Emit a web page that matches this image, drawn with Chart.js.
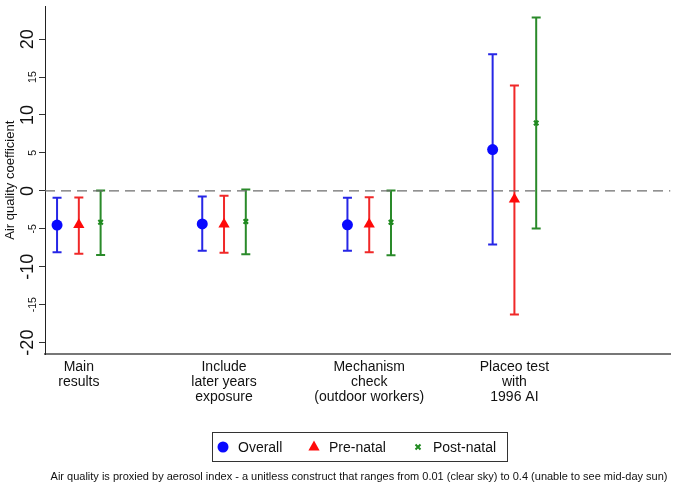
<!DOCTYPE html>
<html lang="en">
<head>
  <meta charset="UTF-8">
  <title>Air quality coefficient</title>
  <script src="https://cdn.jsdelivr.net/npm/chart.js"></script>
  <style>
    html, body { margin: 0; padding: 0; background: #fff; }
    #wrap { width: 677px; height: 484px; }
  </style>
</head>
<body>
  <div id="wrap"><canvas id="chart" width="677" height="484"></canvas></div>

  <script>
    // Specifications (x axis groups), multi-line labels
    const groups = [
      ['Main', 'results'],
      ['Include', 'later years', 'exposure'],
      ['Mechanism', 'check', '(outdoor workers)'],
      ['Placeo test', 'with', '1996 AI']
    ];
    const seriesNames = ['Overall', 'Pre-natal', 'Post-natal'];

    // point estimates and confidence bounds
    const overall   = [-4.5, -4.35, -4.48, 5.45];
    const overallLo = [-8.08, -7.9, -7.9, -7.08];
    const overallHi = [-0.91, -0.74, -0.91, 18.0];

    const prenatal   = [-4.45, -4.4, -4.4, -1.1];
    const prenatalLo = [-8.3, -8.17, -8.08, -16.3];
    const prenatalHi = [-0.87, -0.65, -0.83, 13.9];

    const postnatal   = [-4.13, -4.04, -4.13, 8.95];
    const postnatalLo = [-8.44, -8.35, -8.48, -4.95];
    const postnatalHi = [0.04, 0.17, 0.04, 22.85];

    const yTicks = [-20, -15, -10, -5, 0, 5, 10, 15, 20];
    const yTitle = 'Air quality coefficient';
    const note = 'Air quality is proxied by aerosol index - a unitless construct that ranges from 0.01 (clear sky) to 0.4 (unable to see mid-day sun)';

    // x position of each group is its index + 1, series spread around it
    const dodge = [-0.15, 0, 0.15];
    const xMin = 0.767, xMax = 5.075;

    const colors = {
      blue: '#0a0aff', blueBar: '#2626e6',
      red: '#ff0a0a', redBar: '#f02828',
      green: '#1f8a1f', greenBar: '#2a8a2a'
    };

    const FONT = '"Liberation Sans", Arial, sans-serif';

    function pts(vals, s) {
      return vals.map((v, i) => ({ x: i + 1 + dodge[s], y: v }));
    }

    const bars = [
      { mid: overall, lo: overallLo, hi: overallHi, color: colors.blueBar, s: 0 },
      { mid: prenatal, lo: prenatalLo, hi: prenatalHi, color: colors.redBar, s: 1 },
      { mid: postnatal, lo: postnatalLo, hi: postnatalHi, color: colors.greenBar, s: 2 }
    ];

    const decorPlugin = {
      id: 'decor',
      beforeDatasetsDraw(chart) {
        const ctx = chart.ctx;
        const xs = chart.scales.x, ys = chart.scales.y;
        ctx.save();
        ctx.lineWidth = 2;
        bars.forEach(b => {
          ctx.strokeStyle = b.color;
          b.mid.forEach((_, i) => {
            const px = xs.getPixelForValue(i + 1 + dodge[b.s]);
            const top = ys.getPixelForValue(b.hi[i]);
            const bot = ys.getPixelForValue(b.lo[i]);
            ctx.beginPath();
            ctx.moveTo(px, top); ctx.lineTo(px, bot);
            ctx.moveTo(px - 4.5, top); ctx.lineTo(px + 4.5, top);
            ctx.moveTo(px - 4.5, bot); ctx.lineTo(px + 4.5, bot);
            ctx.stroke();
          });
        });
        ctx.restore();
      },
      afterDraw(chart) {
        const ctx = chart.ctx;
        const xs = chart.scales.x, ys = chart.scales.y;
        ctx.save();
        ctx.fillStyle = '#111';

        // y tick labels, rotated like Stata
        yTicks.forEach(v => {
          const py = ys.getPixelForValue(v);
          const major = v % 10 === 0;
          ctx.save();
          ctx.translate(major ? 33 : 36, py);
          ctx.rotate(-Math.PI / 2);
          ctx.font = (major ? '18px ' : '10.5px ') + FONT;
          ctx.textAlign = 'center';
          ctx.textBaseline = 'alphabetic';
          ctx.fillText(String(v), 0, 0);
          ctx.restore();
        });

        // y title
        ctx.save();
        ctx.translate(14, (chart.chartArea.top + chart.chartArea.bottom) / 2);
        ctx.rotate(-Math.PI / 2);
        ctx.font = '13px ' + FONT;
        ctx.textAlign = 'center';
        ctx.textBaseline = 'alphabetic';
        ctx.fillText(yTitle, 0, 0);
        ctx.restore();

        // group labels under the axis
        ctx.font = '14px ' + FONT;
        ctx.textAlign = 'center';
        ctx.textBaseline = 'middle';
        groups.forEach((lines, i) => {
          const px = xs.getPixelForValue(i + 1);
          lines.forEach((t, j) => ctx.fillText(t, px, 367 + j * 15));
        });

        // legend box
        ctx.strokeStyle = '#333';
        ctx.lineWidth = 1;
        ctx.strokeRect(212.5, 432.5, 295, 29);
        const ly = 447;
        ctx.fillStyle = colors.blue;
        ctx.beginPath(); ctx.arc(223, ly, 5.5, 0, Math.PI * 2); ctx.fill();
        ctx.fillStyle = colors.red;
        ctx.beginPath();
        ctx.moveTo(314, ly - 6.5); ctx.lineTo(319.6, ly + 3.5); ctx.lineTo(308.4, ly + 3.5);
        ctx.closePath(); ctx.fill();
        ctx.strokeStyle = colors.green;
        ctx.lineWidth = 2;
        ctx.beginPath();
        ctx.moveTo(415.5, ly - 2.5); ctx.lineTo(420.5, ly + 2.5);
        ctx.moveTo(420.5, ly - 2.5); ctx.lineTo(415.5, ly + 2.5);
        ctx.stroke();
        ctx.fillStyle = '#111';
        ctx.font = '14px ' + FONT;
        ctx.textAlign = 'left';
        ctx.fillText(seriesNames[0], 238, ly + 1);
        ctx.fillText(seriesNames[1], 329, ly + 1);
        ctx.fillText(seriesNames[2], 433, ly + 1);

        // footnote
        ctx.font = '11px ' + FONT;
        ctx.textAlign = 'center';
        ctx.fillText(note, 359, 477);
        ctx.restore();
      }
    };

    const ctx = document.getElementById('chart').getContext('2d');
    new Chart(ctx, {
      type: 'scatter',
      data: {
        datasets: [
          {
            type: 'line',
            label: 'zero',
            data: [{ x: xMin, y: 0 }, { x: xMax, y: 0 }],
            borderColor: '#6e6e6e',
            borderWidth: 1.2,
            borderDash: [10, 6],
            pointRadius: 0,
            order: 5
          },
          {
            label: seriesNames[0],
            data: pts(overall, 0),
            pointStyle: 'circle',
            pointRadius: 5.5,
            backgroundColor: colors.blue,
            borderColor: colors.blue,
            borderWidth: 0
          },
          {
            label: seriesNames[1],
            data: pts(prenatal, 1),
            pointStyle: 'triangle',
            pointRadius: 6.5,
            backgroundColor: colors.red,
            borderColor: colors.red,
            borderWidth: 0
          },
          {
            label: seriesNames[2],
            data: pts(postnatal, 2),
            pointStyle: 'crossRot',
            pointRadius: 3.2,
            borderColor: colors.green,
            borderWidth: 2
          }
        ]
      },
      options: {
        responsive: false,
        animation: false,
        layout: { padding: { top: 2, right: 3, left: 0, bottom: 0 } },
        plugins: {
          legend: { display: false },
          tooltip: { enabled: false }
        },
        scales: {
          x: {
            type: 'linear',
            min: xMin,
            max: xMax,
            ticks: { display: false },
            grid: { display: false },
            border: { display: true, color: '#777', width: 2 },
            afterFit: s => { s.height = 130; }
          },
          y: {
            type: 'linear',
            min: -21.5,
            max: 24.3,
            afterBuildTicks: s => { s.ticks = yTicks.map(v => ({ value: v })); },
            ticks: { display: false },
            grid: { drawOnChartArea: false, drawTicks: true, tickLength: 6, color: '#333', lineWidth: 1 },
            border: { display: true, color: '#222', width: 1 },
            afterFit: s => { s.width = 45; }
          }
        }
      },
      plugins: [decorPlugin]
    });
  </script>
</body>
</html>
